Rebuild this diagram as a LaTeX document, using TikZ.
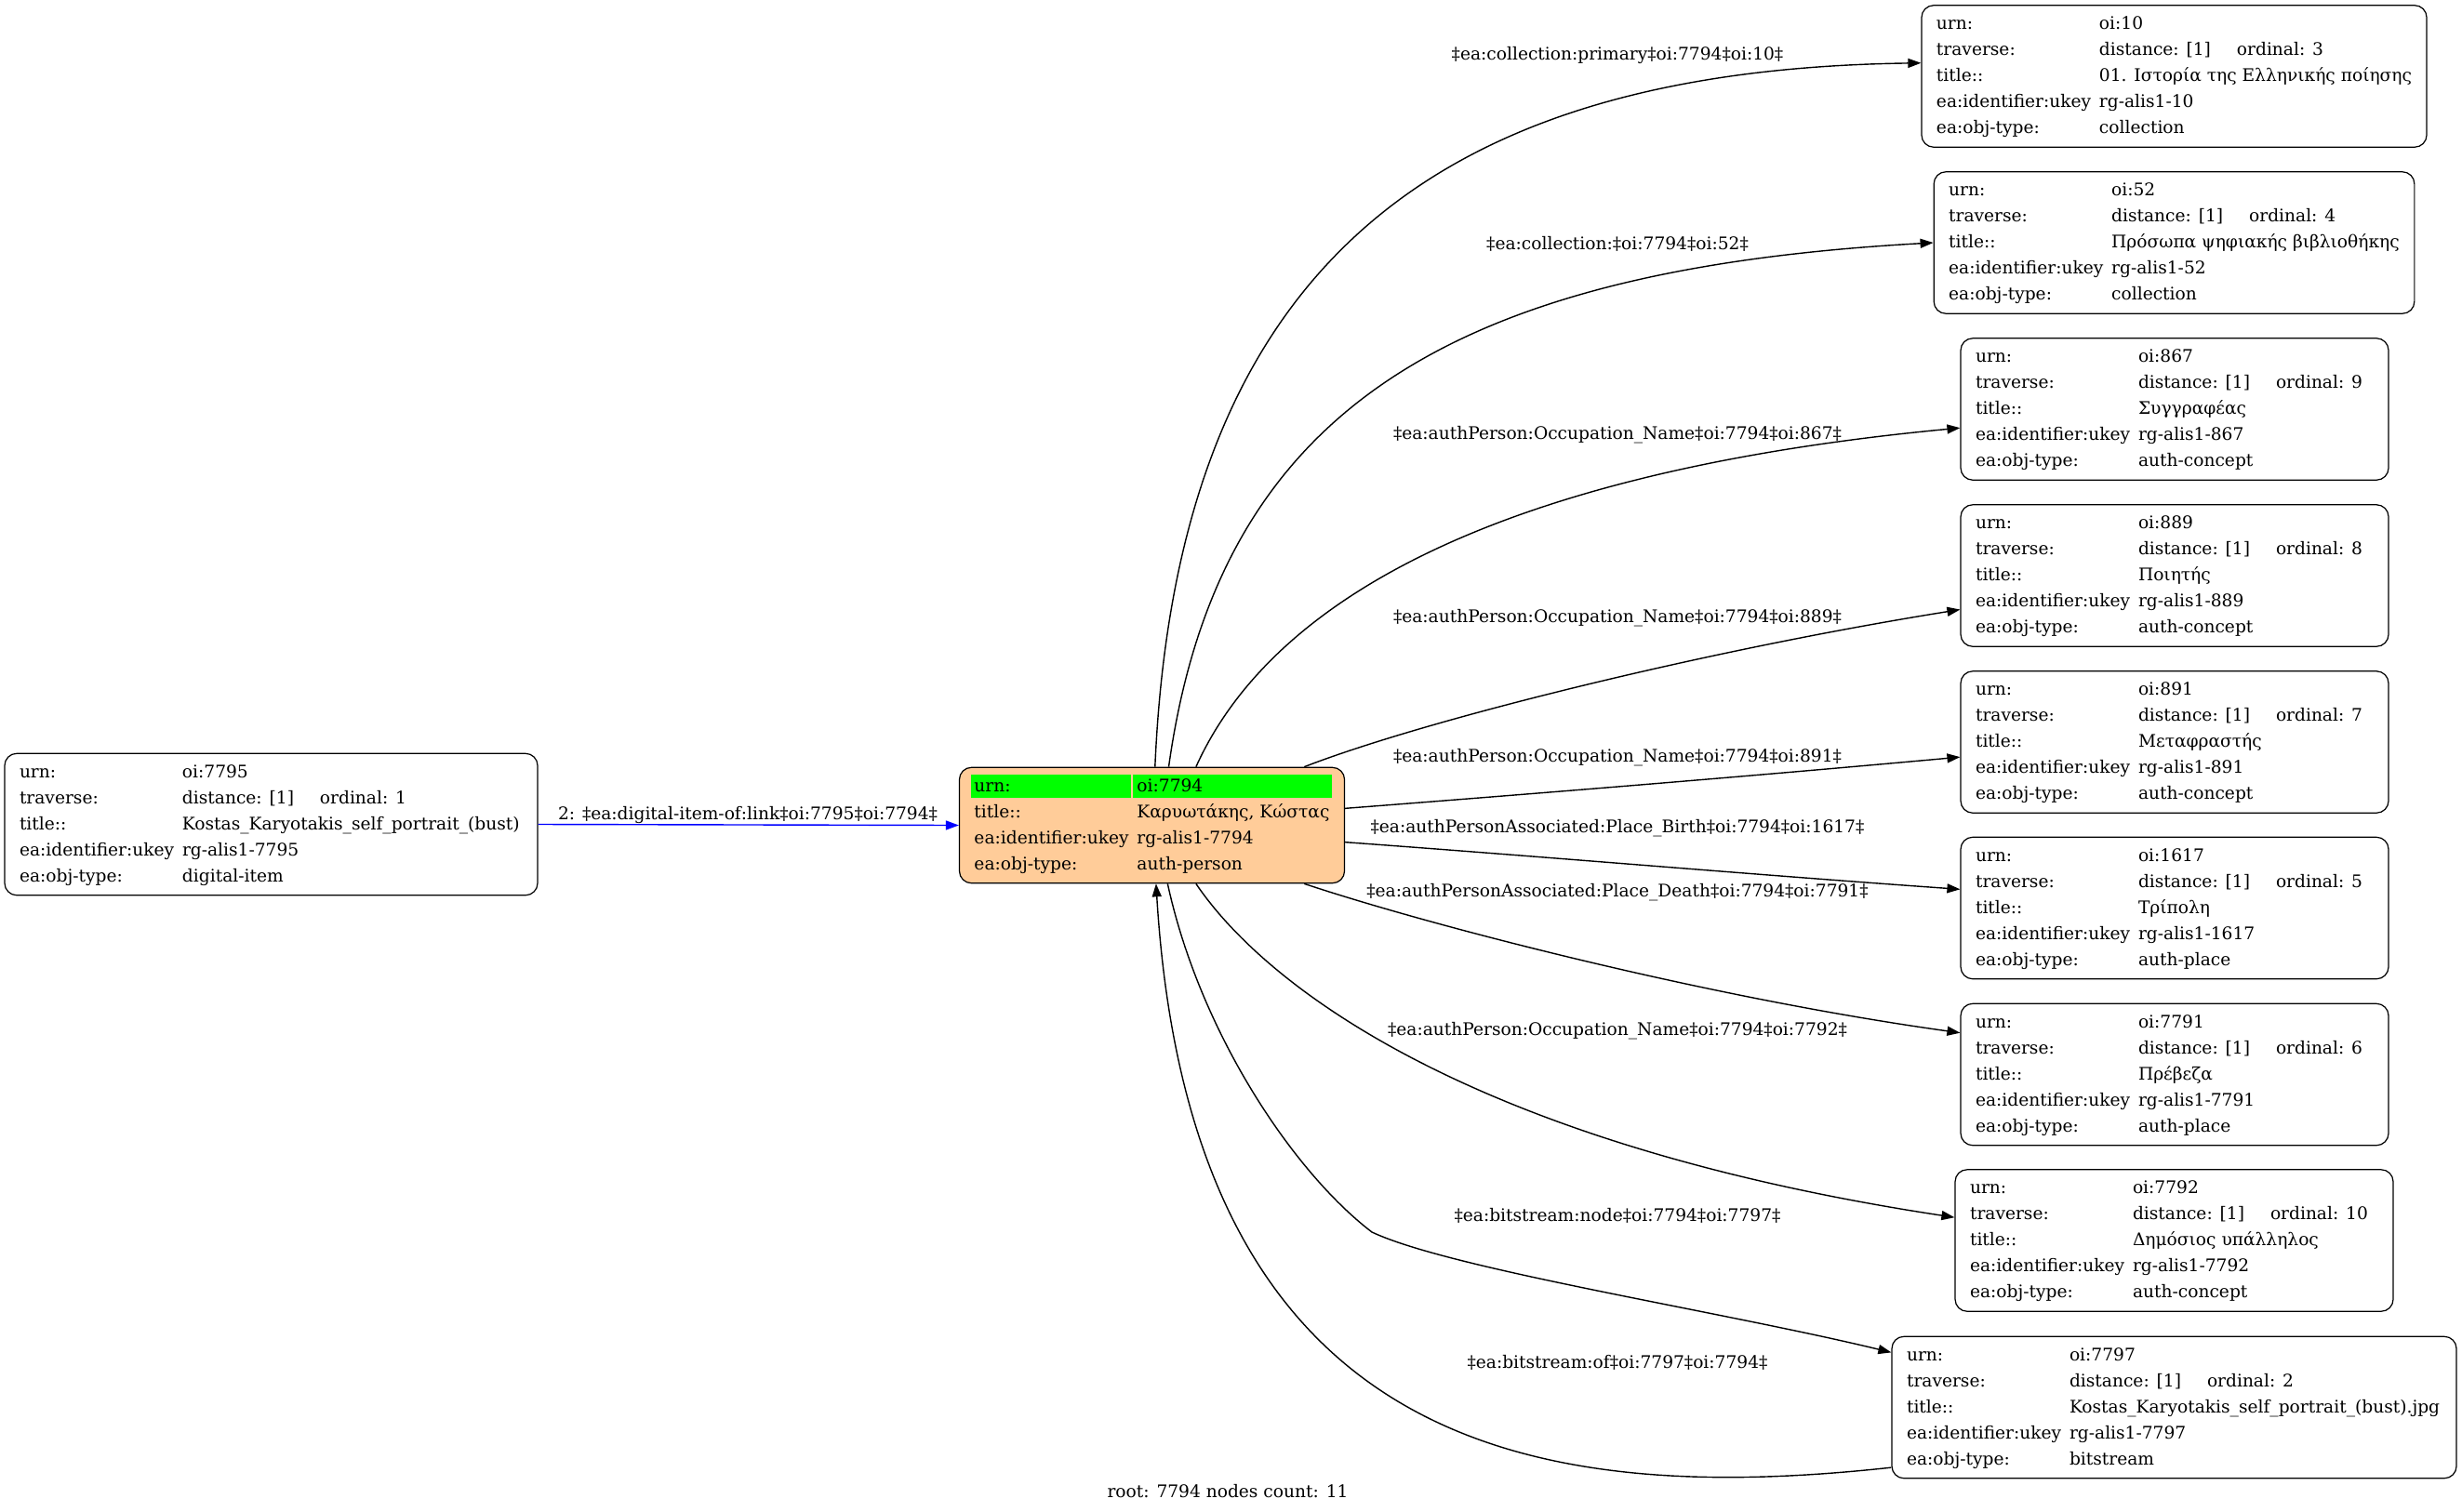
\documentclass[tikz,border=0pt]{standalone}
\usepackage{fontspec}
\setmainfont{DejaVu Serif}
\usetikzlibrary{arrows.meta}

\definecolor{peach}{HTML}{FFCC99}
\definecolor{visited}{HTML}{00FF00}

% one record: value column width, id, ordinal, title, type
\newcommand{\objrec}[5]{%
  \begin{tabular}{@{}l@{}l@{}}
    \makebox[17.5mm][l]{urn:} & \makebox[#1][l]{oi:#2}\\
    traverse: & \makebox[14.8mm][l]{distance: [1]}ordinal: #3\\
    title:: & #4\\
    ea:identifier:ukey & rg-alis1-#2\\
    ea:obj-type: & #5
  \end{tabular}}
% green cell behind a text
\newcommand{\hlcell}[3]{\makebox[0pt][l]{\hspace*{-#3}\textcolor{visited}{\rule[-0.7mm]{#2}{2.5mm}}}#1}

\tikzset{
  rec/.style={draw, line width=0.35pt, rounded corners=1.3mm, inner xsep=1.6mm, inner ysep=0.62mm,
    font={\fontsize{5.3}{7.97}\selectfont}},
  lbl/.style={inner sep=0pt, font={\fontsize{5.3}{7.97}\selectfont}},
  link/.style={line width=0.4pt, -{Triangle[length=1.4mm,width=1mm]}}
}

\begin{document}
\begin{tikzpicture}

    \useasboundingbox (0,0) rectangle (26.47,-16.25);

    % root
    \node[rec, fill=peach] (n7794) at (12.385,-8.875) {%
      \begin{tabular}{@{}l@{}l@{}}
        \makebox[17.5mm][l]{\hlcell{urn:}{17.2mm}{0.3mm}} & \makebox[20.6mm][l]{\hlcell{oi:7794}{21.4mm}{0.4mm}}\\
        title:: & Καρυωτάκης, Κώστας\\
        ea:identifier:ukey & rg-alis1-7794\\
        ea:obj-type: & auth-person
      \end{tabular}};

    \node[rec] (n7795) at (2.915,-8.865) {\objrec{36.6mm}{7795}{1}{Kostas\_Karyotakis\_self\_portrait\_(bust)}{digital-item}};

    \node[rec] (n10) at (23.375,-0.82) {\objrec{33.4mm}{10}{3}{01. Ιστορία της Ελληνικής ποίησης}{collection}};
    \node[rec] (n52) at (23.375,-2.61) {\objrec{30.8mm}{52}{4}{Πρόσωπα ψηφιακής βιβλιοθήκης}{collection}};
    \node[rec] (n867) at (23.38,-4.40) {\objrec{25.3mm}{867}{9}{Συγγραφέας}{auth-concept}};
    \node[rec] (n889) at (23.38,-6.19) {\objrec{25.3mm}{889}{8}{Ποιητής}{auth-concept}};
    \node[rec] (n891) at (23.38,-7.98) {\objrec{25.3mm}{891}{7}{Μεταφραστής}{auth-concept}};
    \node[rec] (n1617) at (23.38,-9.765) {\objrec{25.3mm}{1617}{5}{Τρίπολη}{auth-place}};
    \node[rec] (n7791) at (23.38,-11.555) {\objrec{25.3mm}{7791}{6}{Πρέβεζα}{auth-place}};
    \node[rec] (n7792) at (23.375,-13.34) {\objrec{26.4mm}{7792}{10}{Δημόσιος υπάλληλος}{auth-concept}};
    \node[rec] (n7797) at (23.375,-15.135) {\objrec{40.0mm}{7797}{2}{Kostas\_Karyotakis\_self\_portrait\_(bust).jpg}{bitstream}};

    % links
    \draw[link, blue] (n7795.east) -- (n7794.west);
    \draw[link] (n7794.87) .. controls (12.65,-2.8) and (15.5,-0.75) .. (n10.177);
    \draw[link] (n7794.74) .. controls (13.1,-4.4) and (15.6,-2.9) .. (n52.west);
    \draw[link] (n7794.53) .. controls (13.6,-6.6) and (15.8,-5.1) .. (n867.185.5);
    \draw[link] (n7794.21) .. controls (15.3,-7.75) and (18.3,-7.0) .. (n889.189.6);
    \draw[link] (n7794.5) .. controls (16.7,-8.52) and (18.9,-8.34) .. (n891.184.7);
    \draw[link] (n7794.-5) .. controls (16.7,-9.22) and (18.9,-9.41) .. (n1617.175.6);
    \draw[link] (n7794.-21) .. controls (15.3,-9.93) and (18.3,-10.72) .. (n7791.169.8);
    \draw[link] (n7794.-53) .. controls (13.6,-10.6) and (15.8,-12.3) .. (n7792.174.3);
    \draw[link] (n7794.-75) .. controls (12.9,-11.1) and (13.9,-12.6) .. (14.75,-13.25)
                .. controls (15.6,-13.65) and (18.5,-14.1) .. (n7797.169.5);
    \draw[link] (n7797.192.7) .. controls (16.5,-16.2) and (12.8,-15.6) .. (n7794.-86.5);

    % link labels
    \node[lbl] (l7795) at (8.04,-8.76) {2: ‡ea:digital-item-of:link‡oi:7795‡oi:7794‡};
    \node[lbl] (l10) at (17.39,-0.59) {‡ea:collection:primary‡oi:7794‡oi:10‡};
    \node[lbl] (l52) at (17.39,-2.62) {‡ea:collection:‡oi:7794‡oi:52‡};
    \node[lbl] (l867) at (17.39,-4.68) {‡ea:authPerson:Occupation\_Name‡oi:7794‡oi:867‡};
    \node[lbl] (l889) at (17.39,-6.65) {‡ea:authPerson:Occupation\_Name‡oi:7794‡oi:889‡};
    \node[lbl] (l891) at (17.39,-8.15) {‡ea:authPerson:Occupation\_Name‡oi:7794‡oi:891‡};
    \node[lbl] (l1617) at (17.39,-8.91) {‡ea:authPersonAssociated:Place\_Birth‡oi:7794‡oi:1617‡};
    \node[lbl] (l7791) at (17.39,-9.60) {‡ea:authPersonAssociated:Place\_Death‡oi:7794‡oi:7791‡};
    \node[lbl] (l7792) at (17.39,-11.09) {‡ea:authPerson:Occupation\_Name‡oi:7794‡oi:7792‡};
    \node[lbl] (l7797) at (17.39,-13.07) {‡ea:bitstream:node‡oi:7794‡oi:7797‡};
    \node[lbl] (lof) at (17.39,-14.65) {‡ea:bitstream:of‡oi:7797‡oi:7794‡};

    \node[lbl] (footer) at (13.20,-16.04) {root: 7794 nodes count: 11};

\end{tikzpicture}
\end{document}
